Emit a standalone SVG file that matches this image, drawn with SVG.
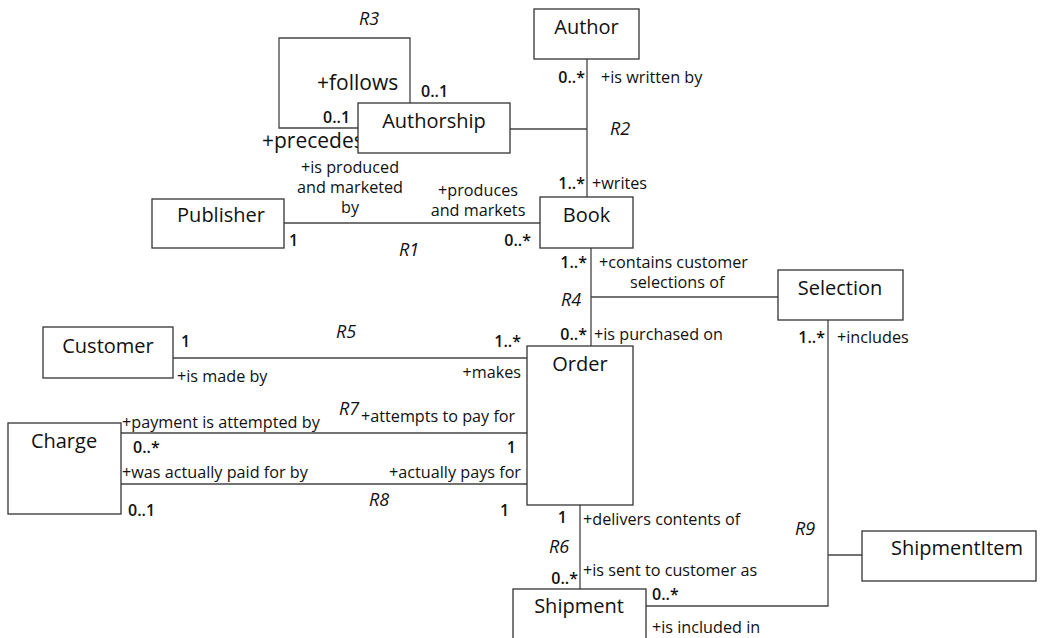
<svg xmlns="http://www.w3.org/2000/svg" width="1040" height="638" viewBox="0 0 1040 638">
<style>
.box{fill:#fff;stroke:#333;stroke-width:1.3}
.ln{fill:none;stroke:#444;stroke-width:1.3}
.nm{font-family:"Open Sans","Liberation Sans",sans-serif;font-size:20px;fill:#111;text-anchor:middle}
.rl{font-family:"Open Sans","Liberation Sans",sans-serif;font-size:16.2px;fill:#111}
.big{font-family:"Open Sans","Liberation Sans",sans-serif;font-size:21px;fill:#111}
.mu{font-family:"Open Sans","Liberation Sans",sans-serif;font-size:16px;font-weight:600;fill:#111}
.r{font-family:"Open Sans","Liberation Sans",sans-serif;font-size:18px;font-style:italic;fill:#111}
.e{text-anchor:end}
.m{text-anchor:middle}
</style>
<rect width="1040" height="638" fill="#fff"/>
<g id="connectors">
<path class="ln" d="M410,103 V38 H279 V128 H358"/>
<path class="ln" d="M587,59 V197 M510,129 H587"/>
<path class="ln" d="M284,223 H540"/>
<path class="ln" d="M591,248 V346 M591,297 H778"/>
<path class="ln" d="M173,358 H527"/>
<path class="ln" d="M121,433 H527"/>
<path class="ln" d="M121,484 H527"/>
<path class="ln" d="M580,505 V589"/>
<path class="ln" d="M828,320 V606 H646 M828,555 H862"/>
<text class="r" x="359" y="25">R3</text>
<text class="big" x="317" y="90">+follows</text>
<text class="mu" x="421" y="97">0..1</text>
<text class="mu" x="323" y="123">0..1</text>
<text class="big" x="262" y="148">+precedes</text>
<text class="mu e" x="585" y="83">0..*</text>
<text class="rl" x="601" y="83">+is written by</text>
<text class="r" x="610" y="135">R2</text>
<text class="mu e" x="585" y="189">1..*</text>
<text class="rl" x="592" y="189">+writes</text>
<text class="rl m" x="350" y="173">+is produced</text>
<text class="rl m" x="350" y="193">and marketed</text>
<text class="rl m" x="350" y="213">by</text>
<text class="rl m" x="478" y="196">+produces</text>
<text class="rl m" x="478" y="216">and markets</text>
<text class="mu" x="289" y="246">1</text>
<text class="mu e" x="531" y="246">0..*</text>
<text class="r" x="399" y="256">R1</text>
<text class="mu e" x="587" y="268">1..*</text>
<text class="rl" x="599" y="268">+contains customer</text>
<text class="rl" x="630" y="288">selections of</text>
<text class="r" x="561" y="306">R4</text>
<text class="mu e" x="587" y="340">0..*</text>
<text class="rl" x="594" y="340">+is purchased on</text>
<text class="mu e" x="825" y="343">1..*</text>
<text class="rl" x="837" y="343">+includes</text>
<text class="mu" x="181" y="347">1</text>
<text class="r" x="336" y="338">R5</text>
<text class="mu e" x="521" y="347">1..*</text>
<text class="rl" x="177" y="382">+is made by</text>
<text class="rl e" x="521" y="378">+makes</text>
<text class="r" x="339" y="415">R7</text>
<text class="rl" x="361" y="422">+attempts to pay for</text>
<text class="rl" x="122" y="428">+payment is attempted by</text>
<text class="mu" x="133" y="453">0..*</text>
<text class="mu e" x="516" y="453">1</text>
<text class="rl" x="122" y="478">+was actually paid for by</text>
<text class="rl e" x="521" y="478">+actually pays for</text>
<text class="r" x="369" y="506">R8</text>
<text class="mu" x="128" y="516">0..1</text>
<text class="mu" x="500" y="516">1</text>
<text class="mu e" x="567" y="523">1</text>
<text class="rl" x="583" y="525">+delivers contents of</text>
<text class="r" x="549" y="553">R6</text>
<text class="mu e" x="578" y="584">0..*</text>
<text class="rl" x="583" y="576">+is sent to customer as</text>
<text class="mu" x="652" y="600">0..*</text>
<text class="rl" x="652" y="633">+is included in</text>
<text class="r" x="795" y="535">R9</text>
</g>
<g id="Authorship"><rect class="box" x="358" y="103" width="152" height="50"/><text class="nm" x="434" y="128">Authorship</text></g>
<g id="Author"><rect class="box" x="534" y="9" width="105" height="50"/><text class="nm" x="586.5" y="34">Author</text></g>
<g id="Book"><rect class="box" x="540" y="197" width="93" height="51"/><text class="nm" x="586.5" y="222">Book</text></g>
<g id="Publisher"><rect class="box" x="152" y="199" width="132" height="49"/><text class="nm" x="221" y="222">Publisher</text></g>
<g id="Selection"><rect class="box" x="778" y="270" width="125" height="50"/><text class="nm" x="840" y="295">Selection</text></g>
<g id="Customer"><rect class="box" x="43" y="327" width="130" height="51"/><text class="nm" x="108" y="353">Customer</text></g>
<g id="Order"><rect class="box" x="527" y="346" width="106" height="159"/><text class="nm" x="580" y="371">Order</text></g>
<g id="Charge"><rect class="box" x="8" y="423" width="113" height="91"/><text class="nm" x="64" y="448">Charge</text></g>
<g id="ShipmentItem"><rect class="box" x="862" y="531" width="174" height="50"/><text class="nm" x="957" y="555">ShipmentItem</text></g>
<g id="Shipment"><rect class="box" x="513" y="589" width="133" height="60"/><text class="nm" x="579" y="613">Shipment</text></g>
</svg>
